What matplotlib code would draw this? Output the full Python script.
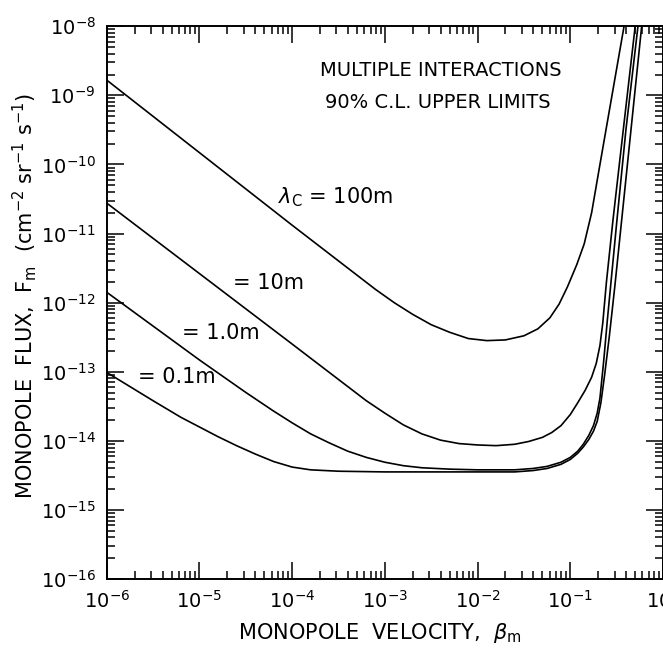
import numpy as np
from matplotlib import pyplot as plt
from matplotlib.ticker import LogLocator, NullFormatter

# values, log10 units (beta, flux)
lb_100 = [-6, -5, -4, -3.1, -2.9, -2.7, -2.5, -2.3, -2.1, -1.9, -1.7, -1.5,
          -1.35, -1.22, -1.12, -1.03, -0.93, -0.85, -0.77, -0.68, -0.55, -0.42]
lf_100 = [-8.78, -9.83, -10.88, -11.81, -12.0, -12.17, -12.32, -12.43, -12.52,
          -12.55, -12.54, -12.48, -12.38, -12.22, -12.02, -11.77, -11.45,
          -11.15, -10.7, -10.0, -9.0, -8.0]

lb_10 = [-6, -5, -4, -3.2, -3.0, -2.8, -2.6, -2.4, -2.2, -2.0, -1.8, -1.6,
         -1.45, -1.3, -1.2, -1.1, -1.0, -0.92, -0.84, -0.77, -0.72, -0.68,
         -0.65, -0.61, -0.54, -0.42, -0.3]
lf_10 = [-10.56, -11.58, -12.6, -13.42, -13.6, -13.77, -13.9, -13.99, -14.04,
         -14.06, -14.07, -14.05, -14.01, -13.95, -13.88, -13.78, -13.62, -13.45,
         -13.27, -13.08, -12.88, -12.62, -12.3, -11.7, -10.81, -9.4, -8.0]

lb_1 = [-6, -5, -4.5, -4.2, -4.0, -3.8, -3.6, -3.4, -3.2, -3.0, -2.8, -2.6,
        -2.3, -2.0, -1.6, -1.4, -1.25, -1.1, -1.0, -0.92, -0.86, -0.8, -0.75,
        -0.71, -0.68, -0.64, -0.6, -0.5, -0.4, -0.27]
lf_1 = [-11.85, -12.83, -13.3, -13.57, -13.74, -13.9, -14.03, -14.15, -14.24,
        -14.31, -14.36, -14.39, -14.41, -14.42, -14.42, -14.4, -14.37, -14.31,
        -14.24, -14.15, -14.05, -13.92, -13.78, -13.6, -13.38, -12.85, -12.25,
        -10.85, -9.5, -8.0]

lb_01 = [-6, -5.5, -5.2, -5.0, -4.8, -4.6, -4.4, -4.2, -4.0, -3.8, -3.5, -3.0,
         -2.0, -1.6, -1.4, -1.25, -1.1, -1.0, -0.92, -0.86, -0.8, -0.75, -0.71,
         -0.67, -0.63, -0.58, -0.52, -0.44, -0.34, -0.23]
lf_01 = [-13.01, -13.42, -13.66, -13.8, -13.94, -14.07, -14.19, -14.3, -14.38,
         -14.42, -14.44, -14.45, -14.45, -14.45, -14.43, -14.4, -14.34, -14.27,
         -14.18, -14.09, -13.98, -13.86, -13.72, -13.45, -13.05, -12.5, -11.77,
         -10.73, -9.43, -8.0]

curves = [(lb_100, lf_100), (lb_10, lf_10), (lb_1, lf_1), (lb_01, lf_01)]

fig = plt.figure(figsize=(6.63, 6.55), dpi=100)
ax = fig.add_axes([0.161, 0.116, 0.839, 0.844])

for lb, lf in curves:
    ax.plot(np.power(10.0, lb), np.power(10.0, lf), color='black', lw=1.2,
            solid_joinstyle='round')

ax.set_xscale('log')
ax.set_yscale('log')
ax.set_xlim(1e-6, 1)
ax.set_ylim(1e-16, 1e-8)

ax.xaxis.set_major_locator(LogLocator(base=10, numticks=20))
ax.yaxis.set_major_locator(LogLocator(base=10, numticks=20))
ax.xaxis.set_minor_locator(LogLocator(base=10, subs=np.arange(2, 10), numticks=20))
ax.yaxis.set_minor_locator(LogLocator(base=10, subs=np.arange(2, 10), numticks=20))
ax.xaxis.set_minor_formatter(NullFormatter())
ax.yaxis.set_minor_formatter(NullFormatter())

ax.tick_params(which='both', direction='in', top=True, right=True, width=1.1)
ax.tick_params(which='major', length=12, labelsize=14, pad=8)
ax.tick_params(which='minor', length=5.5)
for s in ax.spines.values():
    s.set_linewidth(1.4)

ax.set_xlabel(r'MONOPOLE  VELOCITY,  $\beta_\mathrm{m}$', fontsize=15)
ax.set_ylabel(r'MONOPOLE  FLUX,  F$_\mathrm{m}$  (cm$^{-2}$ sr$^{-1}$ s$^{-1}$)',
              fontsize=15)
ax.xaxis.label.set_va('center')
ax.yaxis.label.set_va('center')
ax.xaxis.set_label_coords(0.491, -0.097)
ax.yaxis.set_label_coords(-0.147, 0.512)

# text positions in pixels from the top-left corner
def put(x, y, s, size=15, ha='left'):
    ax.text(x, 655 - y, s, transform=None, fontsize=size, ha=ha, va='center')

put(441, 70, 'MULTIPLE INTERACTIONS', size=14, ha='center')
put(438, 102, '90% C.L. UPPER LIMITS', size=14, ha='center')
put(278, 197, r'$\lambda_\mathrm{C}$ = 100m')
put(233, 283, '= 10m')
put(182, 333, '= 1.0m')
put(138, 377, '= 0.1m')

fig.savefig('out.png', dpi=100)
